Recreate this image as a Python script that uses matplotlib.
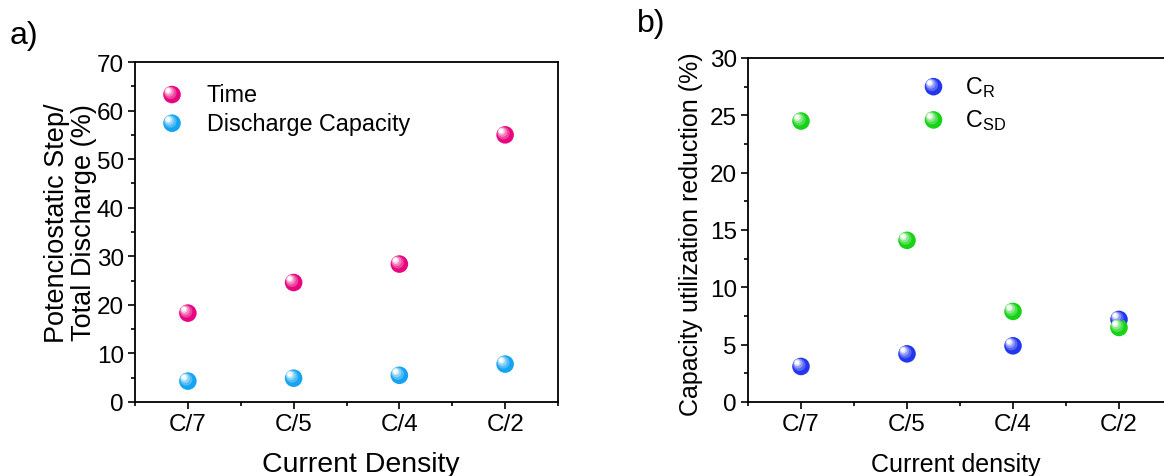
import matplotlib
matplotlib.use("Agg")
import matplotlib.pyplot as plt
import matplotlib.transforms as mtransforms
import matplotlib.colors as mcolors
import numpy as np

plt.rcParams['font.family'] = ['Liberation Sans', 'DejaVu Sans']

# data
rates = ["C/7", "C/5", "C/4", "C/2"]
time_pct = [18.3, 24.6, 28.4, 55.0]
discharge_pct = [4.3, 4.9, 5.5, 7.8]
c_r = [3.1, 4.2, 4.9, 7.2]
c_sd = [24.5, 14.1, 7.9, 6.5]

PINK = "#e8057f"
SKY = "#14a4f2"
BLUE = "#2236ee"
GREEN = "#17d317"

TICK_SIZE = 17.5
LEG_SIZE = 16.8


def ball(ax, x, y, color, s=160, zorder=3):
    # fake glossy sphere: base disc + lighter offset discs + white highlight
    base = np.array(mcolors.to_rgb(color))
    ax.scatter(x, y, s=s, color=base, edgecolors='none', zorder=zorder, clip_on=False)
    fig = ax.figure
    steps = [(0.5, 0.25, -1.2, 1.2), (0.3, 0.5, -2.0, 2.0), (0.15, 0.8, -2.6, 2.6), (0.06, 1.0, -2.9, 2.9)]
    for frac, mix, dx, dy in steps:
        c = base + (1 - base) * mix
        tr = mtransforms.offset_copy(ax.transData, fig=fig, x=dx, y=dy, units='points')
        ax.scatter(x, y, s=s * frac, color=c, edgecolors='none', zorder=zorder + 0.1,
                   transform=tr, clip_on=False)


def style_axes(ax, ymax, ymajor, yminor):
    ax.set_xlim(0.5, 4.5)
    ax.set_ylim(0, ymax)
    ax.set_xticks([1, 2, 3, 4])
    ax.set_xticklabels(rates)
    ax.set_xticks([0.5, 1.5, 2.5, 3.5, 4.5], minor=True)
    ax.set_yticks(np.arange(0, ymax + 0.01, ymajor))
    ax.set_yticks(np.arange(0, ymax + 0.01, yminor), minor=True)
    ax.tick_params(which='major', direction='out', length=5, width=1.2, labelsize=TICK_SIZE,
                   top=False, right=False, pad=3)
    ax.tick_params(which='minor', direction='out', length=3, width=1.2, top=False, right=False)
    for sp in ax.spines.values():
        sp.set_linewidth(1.3)


fig = plt.figure(figsize=(11.64, 4.77), dpi=100)
x = np.arange(1, len(rates) + 1)

# panel a
ax1 = fig.add_axes([135 / 1164, 1 - 403 / 477, 423 / 1164, 340 / 477])
style_axes(ax1, 70, 10, 5)
ball(ax1, x, time_pct, PINK)
ball(ax1, x, discharge_pct, SKY)
ax1.set_xlabel("Current Density", fontsize=20.5)
ax1.xaxis.set_label_coords(0.535, -0.145)
ax1.set_ylabel("Potenciostatic Step/\nTotal Discharge (%)", fontsize=19.5, linespacing=1.05)
ax1.yaxis.set_label_coords(-0.09, 0.53)
# legend
ball(ax1, [0.85], [63.3], PINK)
ball(ax1, [0.85], [57.4], SKY)
ax1.text(1.18, 63.3, "Time", fontsize=LEG_SIZE, va='center')
ax1.text(1.18, 57.4, "Discharge Capacity", fontsize=LEG_SIZE, va='center')
fig.text(10 / 1164, 1 - 36 / 477, "a)", fontsize=23, va='center')

# panel b
ax2 = fig.add_axes([748 / 1164, 1 - 403 / 477, 424 / 1164, 344 / 477])
style_axes(ax2, 30, 5, 2.5)
ball(ax2, x, c_r, BLUE)
ball(ax2, x, c_sd, GREEN)
ax2.set_xlabel("Current density", fontsize=18)
ax2.xaxis.set_label_coords(0.49, -0.145)
ax2.set_ylabel("Capacity utilization reduction (%)", fontsize=18)
ax2.yaxis.set_label_coords(-0.105, 0.49)
ball(ax2, [2.25], [27.5], BLUE)
ball(ax2, [2.25], [24.6], GREEN)
ax2.text(2.55, 27.5, r"C$_\mathregular{R}$", fontsize=LEG_SIZE, va='center')
ax2.text(2.55, 24.6, r"C$_\mathregular{SD}$", fontsize=LEG_SIZE, va='center')
fig.text(637 / 1164, 1 - 24 / 477, "b)", fontsize=23, va='center')

fig.savefig("out.png", dpi=100)
